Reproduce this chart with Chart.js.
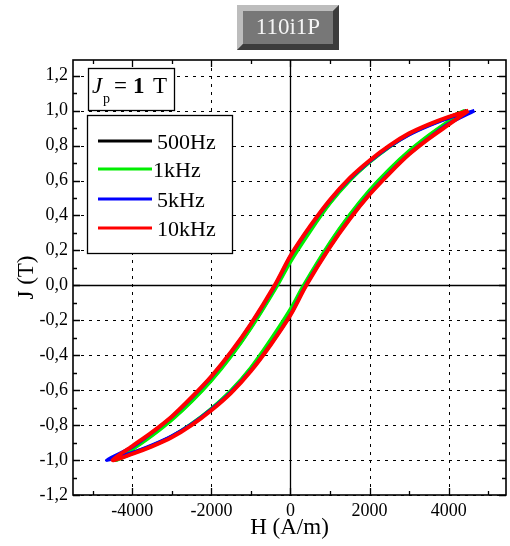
<!DOCTYPE html>
<html>
<head>
<meta charset="utf-8">
<script src="https://cdn.jsdelivr.net/npm/chart.js@4.4.0/dist/chart.umd.min.js"></script>
<style>
  html, body { margin: 0; padding: 0; background: #fff; }
  #wrap { width: 510px; height: 546px; position: relative; }
</style>
</head>
<body>
<div id="wrap"><canvas id="loopChart"></canvas></div>
<script>
const chartTitle = '110i1P';
const seriesNames = ['500Hz', '1kHz', '5kHz', '10kHz'];
const seriesColors = ['#000000', '#00ee00', '#0000ff', '#ff0000'];

const xTicks = [-4000, -2000, 0, 2000, 4000];
const xMinor = [-5000, -3000, -1000, 1000, 3000, 5000];
const yTicks = [-1.2, -1.0, -0.8, -0.6, -0.4, -0.2, 0, 0.2, 0.4, 0.6, 0.8, 1.0, 1.2];
const yMinor = [-1.1, -0.9, -0.7, -0.5, -0.3, -0.1, 0.1, 0.3, 0.5, 0.7, 0.9, 1.1];

// 500Hz loop (descending branch, then ascending branch)
const h500 = [4450, 4000, 3500, 3000, 2500, 2000, 1500, 1000, 500, 0, -350, -1000, -1500, -2000, -2500, -3000, -3500, -4000, -4450,
              -4000, -3500, -3000, -2500, -2000, -1500, -1000, -500, 0, 350, 1000, 1500, 2000, 2500, 3000, 3500, 4000, 4450];
const j500 = [1.00, 0.962, 0.919, 0.866, 0.795, 0.708, 0.605, 0.475, 0.318, 0.145, 0.0, -0.24, -0.40, -0.54, -0.66, -0.765, -0.855, -0.935, -1.00,
              -0.962, -0.919, -0.866, -0.795, -0.708, -0.605, -0.475, -0.318, -0.145, 0.0, 0.24, 0.40, 0.54, 0.66, 0.765, 0.855, 0.935, 1.00];

// 1kHz loop
const h1k = [4400, 4000, 3500, 3000, 2500, 2000, 1500, 1000, 500, 0, -330, -1000, -1500, -2000, -2500, -3000, -3500, -4000, -4400,
             -4000, -3500, -3000, -2500, -2000, -1500, -1000, -500, 0, 330, 1000, 1500, 2000, 2500, 3000, 3500, 4000, 4400];
const j1k = [1.00, 0.96, 0.917, 0.864, 0.792, 0.705, 0.60, 0.47, 0.31, 0.135, 0.0, -0.245, -0.405, -0.545, -0.665, -0.77, -0.86, -0.94, -1.00,
             -0.96, -0.917, -0.864, -0.792, -0.705, -0.60, -0.47, -0.31, -0.135, 0.0, 0.245, 0.405, 0.545, 0.665, 0.77, 0.86, 0.94, 1.00];

// 5kHz loop
const h5k = [4650, 4000, 3500, 3000, 2500, 2000, 1500, 1000, 500, 0, -390, -1000, -1500, -2000, -2500, -3000, -3500, -4000, -4650,
             -4000, -3500, -3000, -2500, -2000, -1500, -1000, -500, 0, 390, 1000, 1500, 2000, 2500, 3000, 3500, 4000, 4650];
const j5k = [1.00, 0.958, 0.915, 0.863, 0.795, 0.71, 0.61, 0.487, 0.337, 0.167, 0.0, -0.222, -0.383, -0.523, -0.643, -0.752, -0.843, -0.925, -1.00,
             -0.958, -0.915, -0.863, -0.795, -0.71, -0.61, -0.487, -0.337, -0.167, 0.0, 0.222, 0.383, 0.523, 0.643, 0.752, 0.843, 0.925, 1.00];

// 10kHz loop
const h10k = [4500, 4000, 3500, 3000, 2500, 2000, 1500, 1000, 500, 0, -400, -1000, -1500, -2000, -2500, -3000, -3500, -4000, -4500,
              -4000, -3500, -3000, -2500, -2000, -1500, -1000, -500, 0, 400, 1000, 1500, 2000, 2500, 3000, 3500, 4000, 4500];
const j10k = [1.00, 0.965, 0.922, 0.87, 0.80, 0.715, 0.615, 0.49, 0.34, 0.17, 0.0, -0.22, -0.38, -0.52, -0.64, -0.75, -0.84, -0.92, -1.00,
              -0.965, -0.922, -0.87, -0.80, -0.715, -0.615, -0.49, -0.34, -0.17, 0.0, 0.22, 0.38, 0.52, 0.64, 0.75, 0.84, 0.92, 1.00];

const loopsH = [h500, h1k, h5k, h10k];
const loopsJ = [j500, j1k, j5k, j10k];

Chart.defaults.font.family = '"Liberation Serif", "DejaVu Serif", serif';
Chart.defaults.color = '#000';

// red should end up on top, so the first dataset is drawn last
const datasets = seriesNames.map((name, i) => ({
    label: name,
    data: loopsH[i].map((h, k) => ({ x: h, y: loopsJ[i][k] })),
    borderColor: seriesColors[i],
    backgroundColor: seriesColors[i],
    borderWidth: i === 3 ? 4 : 3.5,
    showLine: true,
    pointRadius: 0,
    tension: 0.3,
    fill: false
})).reverse();

const decorations = {
    id: 'decorations',
    beforeDatasetsDraw(chart) {
        const { ctx, chartArea: a, scales: { x, y } } = chart;
        const px = v => Math.round(x.getPixelForValue(v)) + 0.5;
        const py = v => Math.round(y.getPixelForValue(v)) + 0.5;
        ctx.save();
        ctx.strokeStyle = '#000';
        ctx.lineWidth = 1;
        ctx.setLineDash([3, 5]);
        ctx.beginPath();
        xTicks.forEach(v => { if (v !== 0) { ctx.moveTo(px(v), a.top); ctx.lineTo(px(v), a.bottom); } });
        yTicks.forEach(v => { if (v !== 0) { ctx.moveTo(a.left, py(v)); ctx.lineTo(a.right, py(v)); } });
        ctx.stroke();
        ctx.setLineDash([]);

        // zero lines
        ctx.lineWidth = 1.3;
        ctx.beginPath();
        ctx.moveTo(px(0), a.top); ctx.lineTo(px(0), a.bottom);
        ctx.moveTo(a.left, py(0)); ctx.lineTo(a.right, py(0));
        ctx.stroke();

        // inward ticks on all four sides
        ctx.beginPath();
        const tickX = (vals, len) => vals.forEach(v => {
            ctx.moveTo(px(v), a.bottom); ctx.lineTo(px(v), a.bottom - len);
            ctx.moveTo(px(v), a.top); ctx.lineTo(px(v), a.top + len);
        });
        const tickY = (vals, len) => vals.forEach(v => {
            ctx.moveTo(a.left, py(v)); ctx.lineTo(a.left + len, py(v));
            ctx.moveTo(a.right, py(v)); ctx.lineTo(a.right - len, py(v));
        });
        tickX(xTicks, 7); tickX(xMinor, 4);
        tickY(yTicks, 7); tickY(yMinor, 4);
        ctx.stroke();

        ctx.lineWidth = 1.6;
        ctx.strokeRect(a.left, a.top, a.right - a.left, a.bottom - a.top);
        ctx.restore();
    },
    afterDraw(chart) {
        const { ctx } = chart;
        ctx.save();

        // beveled title button
        const bx = 237, by = 5, bw = 102, bh = 45, bev = 6;
        ctx.fillStyle = '#777777';
        ctx.fillRect(bx, by, bw, bh);
        ctx.fillStyle = '#bdbdbd';
        ctx.beginPath();
        ctx.moveTo(bx, by); ctx.lineTo(bx + bw, by); ctx.lineTo(bx + bw - bev, by + bev);
        ctx.lineTo(bx + bev, by + bev); ctx.lineTo(bx + bev, by + bh - bev); ctx.lineTo(bx, by + bh);
        ctx.closePath(); ctx.fill();
        ctx.fillStyle = '#3c3c3c';
        ctx.beginPath();
        ctx.moveTo(bx + bw, by); ctx.lineTo(bx + bw, by + bh); ctx.lineTo(bx, by + bh);
        ctx.lineTo(bx + bev, by + bh - bev); ctx.lineTo(bx + bw - bev, by + bh - bev); ctx.lineTo(bx + bw - bev, by + bev);
        ctx.closePath(); ctx.fill();
        ctx.fillStyle = '#f4f4f4';
        ctx.font = '23px "Liberation Serif"';
        ctx.textAlign = 'center';
        ctx.textBaseline = 'alphabetic';
        ctx.fillText(chartTitle, bx + bw / 2, 34);

        // J_p = 1 T box
        ctx.textAlign = 'left';
        ctx.fillStyle = '#fff';
        ctx.fillRect(88, 68, 86, 42);
        ctx.strokeStyle = '#000';
        ctx.lineWidth = 1.3;
        ctx.strokeRect(88.5, 68.5, 86, 42);
        ctx.fillStyle = '#000';
        ctx.font = 'italic 23px "Liberation Serif"';
        ctx.fillText('J', 92, 93);
        ctx.font = '14px "Liberation Serif"';
        ctx.fillText('p', 103, 103);
        ctx.font = '23px "Liberation Serif"';
        ctx.fillText('=', 114, 93);
        ctx.font = 'bold 23px "Liberation Serif"';
        ctx.fillText('1', 133, 93);
        ctx.font = '23px "Liberation Serif"';
        ctx.fillText('T', 153, 93);

        // legend box
        ctx.fillStyle = '#fff';
        ctx.fillRect(87, 115, 145, 138);
        ctx.strokeRect(87.5, 115.5, 145, 138);
        const rowY = [141, 169, 199, 228];
        ctx.font = '22px "Liberation Serif"';
        seriesNames.forEach((name, i) => {
            ctx.strokeStyle = seriesColors[i];
            ctx.lineWidth = 3;
            ctx.beginPath();
            ctx.moveTo(98, rowY[i]); ctx.lineTo(152, rowY[i]);
            ctx.stroke();
            ctx.fillStyle = '#000';
            ctx.fillText(name, i === 1 ? 153 : 157, rowY[i] + 8);
        });
        ctx.restore();
    }
};

const ctx = document.getElementById('loopChart').getContext('2d');
const loopChart = new Chart(ctx, {
    type: 'scatter',
    data: { datasets: datasets },
    options: {
        responsive: true,
        maintainAspectRatio: false,
        animation: false,
        layout: { padding: { left: 0, top: 60, right: 4, bottom: 0 } },
        plugins: {
            legend: { display: false },
            tooltip: { enabled: false }
        },
        scales: {
            x: {
                type: 'linear',
                min: -5500,
                max: 5450,
                afterBuildTicks: s => { s.ticks = xTicks.map(v => ({ value: v })); },
                afterFit: s => { s.height = 51; },
                grid: { display: false, drawTicks: false },
                border: { display: false },
                ticks: {
                    font: { size: 18 },
                    color: '#000',
                    padding: 5,
                    maxRotation: 0,
                    autoSkip: false,
                    callback: v => String(v)
                },
                title: {
                    display: true,
                    text: 'H (A/m)',
                    font: { size: 23 },
                    color: '#000',
                    padding: { top: 0, bottom: 4 }
                }
            },
            y: {
                type: 'linear',
                min: -1.2,
                max: 1.29,
                afterBuildTicks: s => { s.ticks = yTicks.map(v => ({ value: v })); },
                afterFit: s => { s.width = 73; },
                grid: { display: false, drawTicks: false },
                border: { display: false },
                ticks: {
                    font: { size: 18 },
                    color: '#000',
                    padding: 5,
                    autoSkip: false,
                    callback: v => v.toFixed(1).replace('.', ',')
                },
                title: {
                    display: true,
                    text: 'J (T)',
                    font: { size: 23 },
                    color: '#000',
                    padding: { top: 13, bottom: 0 }
                }
            }
        }
    },
    plugins: [decorations]
});
</script>
</body>
</html>
